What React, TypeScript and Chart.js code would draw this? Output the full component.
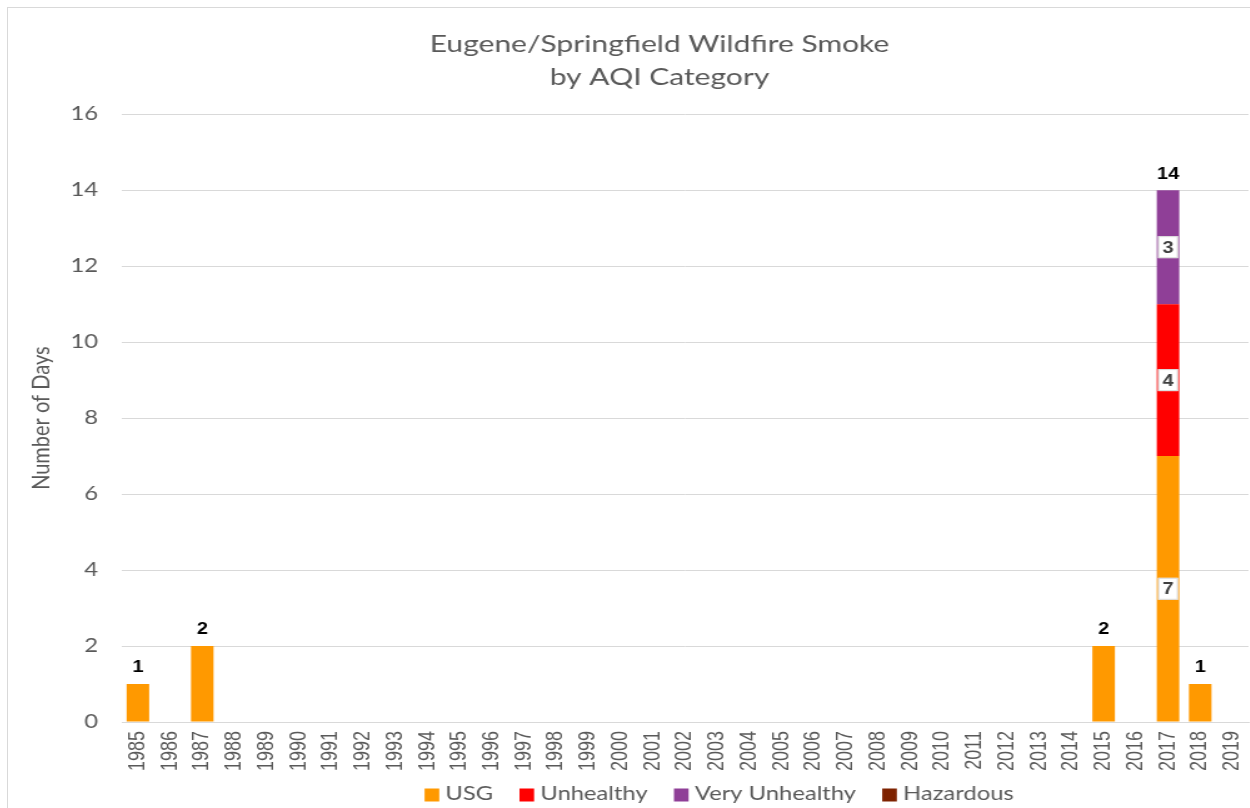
import React, { useEffect, useRef } from "react";
import { Chart, registerables } from "chart.js";

Chart.register(...registerables);

const years = [
  "1985", "1986", "1987", "1988", "1989", "1990", "1991", "1992", "1993", "1994",
  "1995", "1996", "1997", "1998", "1999", "2000", "2001", "2002", "2003", "2004",
  "2005", "2006", "2007", "2008", "2009", "2010", "2011", "2012", "2013", "2014",
  "2015", "2016", "2017", "2018", "2019",
];

const usg = [
  1, 0, 2, 0, 0, 0, 0, 0, 0, 0,
  0, 0, 0, 0, 0, 0, 0, 0, 0, 0,
  0, 0, 0, 0, 0, 0, 0, 0, 0, 0,
  2, 0, 7, 1, 0,
];
const unhealthy = [
  0, 0, 0, 0, 0, 0, 0, 0, 0, 0,
  0, 0, 0, 0, 0, 0, 0, 0, 0, 0,
  0, 0, 0, 0, 0, 0, 0, 0, 0, 0,
  0, 0, 4, 0, 0,
];
const veryUnhealthy = [
  0, 0, 0, 0, 0, 0, 0, 0, 0, 0,
  0, 0, 0, 0, 0, 0, 0, 0, 0, 0,
  0, 0, 0, 0, 0, 0, 0, 0, 0, 0,
  0, 0, 3, 0, 0,
];
const hazardous = [
  0, 0, 0, 0, 0, 0, 0, 0, 0, 0,
  0, 0, 0, 0, 0, 0, 0, 0, 0, 0,
  0, 0, 0, 0, 0, 0, 0, 0, 0, 0,
  0, 0, 0, 0, 0,
];

const seriesNames = ["USG", "Unhealthy", "Very Unhealthy", "Hazardous"];
const seriesColors = ["#FF9900", "#FF0000", "#8F3F97", "#7E2200"];
const titleLines = ["Eugene/Springfield Wildfire Smoke", "by AQI Category"];
const yTitle = "Number of Days";

const STRETCH = 1.25;
const CW = 994;
const CH = 800;

const LEGEND_FONT = "19px Lato, 'Liberation Sans', sans-serif";
const LEGEND_CENTER_X = 568.7;
const LEGEND_CENTER_Y = 786;
const LEGEND_BOX_W = 11.7;
const LEGEND_BOX_H = 13;
const LEGEND_TEXT_GAP = 5;
const LEGEND_ITEM_GAP = 21;

const labelPlugin = {
  id: "stackLabels",
  afterLayout(chart: any) {
    if (chart.titleBlock) {
      chart.titleBlock.left += 25;
      chart.titleBlock.right += 25;
    }
  },
  afterDatasetsDraw(chart: any) {
    const ctx = chart.ctx;
    const n = chart.data.labels.length;
    ctx.save();
    for (let i = 0; i < n; i++) {
      let total = 0;
      let count = 0;
      let topY = Infinity;
      let x = 0;
      const segs: any[] = [];
      chart.data.datasets.forEach((ds: any, d: number) => {
        const v = ds.data[i];
        if (v > 0) {
          const el = chart.getDatasetMeta(d).data[i];
          total += v;
          count++;
          topY = Math.min(topY, el.y);
          x = el.x;
          segs.push({ v, el });
        }
      });
      if (!total) continue;
      if (count > 1) {
        segs.forEach(({ v, el }) => {
          const cy = (el.y + el.base) / 2;
          const w = 16;
          const h = 22;
          ctx.fillStyle = "#FFFFFF";
          ctx.fillRect(el.x - w / 2, cy - h / 2, w, h);
          ctx.strokeStyle = "#D9D9D9";
          ctx.lineWidth = 1;
          ctx.strokeRect(el.x - w / 2 + 0.5, cy - h / 2 + 0.5, w - 1, h - 1);
          ctx.fillStyle = "#404040";
          ctx.font = 'bold 16px "Liberation Sans", Arial, sans-serif';
          ctx.textAlign = "center";
          ctx.textBaseline = "middle";
          ctx.fillText(String(v), el.x, cy + 1);
        });
      }
      ctx.fillStyle = "#000000";
      ctx.font = 'bold 16px "Liberation Sans", Arial, sans-serif';
      ctx.textAlign = "center";
      ctx.textBaseline = "middle";
      ctx.fillText(String(total), x, topY - 16);
    }
    ctx.restore();
  },
  afterDraw(chart: any) {
    const ctx = chart.ctx;
    ctx.save();
    ctx.font = LEGEND_FONT;
    const items = chart.data.datasets.map((ds: any) => ({
      text: ds.label,
      color: ds.backgroundColor,
      w: ctx.measureText(ds.label).width,
    }));
    let total = 0;
    items.forEach((it: any, k: number) => {
      total += LEGEND_BOX_W + LEGEND_TEXT_GAP + it.w;
      if (k > 0) total += LEGEND_ITEM_GAP;
    });
    let x = LEGEND_CENTER_X - total / 2;
    ctx.textAlign = "left";
    ctx.textBaseline = "middle";
    items.forEach((it: any) => {
      ctx.fillStyle = it.color;
      ctx.fillRect(x, LEGEND_CENTER_Y - LEGEND_BOX_H / 2 + 1, LEGEND_BOX_W, LEGEND_BOX_H);
      x += LEGEND_BOX_W + LEGEND_TEXT_GAP;
      ctx.fillStyle = "#595959";
      ctx.fillText(it.text, x, LEGEND_CENTER_Y);
      x += it.w + LEGEND_ITEM_GAP;
    });
    ctx.restore();
  },
};

export default function App() {
  const ref = useRef<HTMLCanvasElement | null>(null);

  useEffect(() => {
    if (!ref.current) return;
    const seriesData = [usg, unhealthy, veryUnhealthy, hazardous];
    const chart = new Chart(ref.current, {
      type: "bar",
      data: {
        labels: years,
        datasets: seriesNames.map((name, k) => ({
          label: name,
          data: seriesData[k],
          backgroundColor: seriesColors[k],
          borderWidth: 0,
          barPercentage: 0.7,
          categoryPercentage: 1.0,
        })),
      },
      options: {
        responsive: false,
        animation: false,
        devicePixelRatio: 1,
        layout: { padding: { left: 0, right: 2, top: 0, bottom: 36 } },
        plugins: {
          tooltip: { enabled: false },
          title: {
            display: true,
            text: titleLines,
            color: "#595959",
            font: { family: "Lato, 'Liberation Sans', sans-serif", size: 24, weight: "normal", lineHeight: 1.4 },
            padding: { top: 19, bottom: 20 },
          },
          legend: { display: false },
        },
        scales: {
          x: {
            stacked: true,
            grid: { display: false, drawTicks: false },
            border: { display: true, color: "#D9D9D9" },
            ticks: {
              color: "#595959",
              font: { family: "'Liberation Sans', Arial, sans-serif", size: 18 },
              minRotation: 90,
              maxRotation: 90,
              padding: 9,
              autoSkip: false,
            },
            afterFit: (scale: any) => {
              scale.height = 50;
              scale.paddingLeft = 0;
              scale.paddingRight = 0;
            },
          },
          y: {
            stacked: true,
            min: 0,
            max: 16,
            ticks: {
              stepSize: 2,
              color: "#595959",
              font: { family: "Lato, 'Liberation Sans', sans-serif", size: 19 },
              padding: 19,
            },
            grid: { color: "#D9D9D9", lineWidth: 1, drawTicks: false },
            border: { display: false },
            title: {
              display: true,
              text: yTitle,
              color: "#595959",
              font: { family: "Lato, 'Liberation Sans', sans-serif", size: 20 },
              padding: { top: 15, bottom: 0 },
            },
            afterFit: (scale: any) => {
              scale.width = 91;
            },
          },
        },
      },
      plugins: [labelPlugin],
    });
    return () => chart.destroy();
  }, []);

  return (
    <div
      style={{
        position: "fixed",
        left: 7,
        top: 7,
        width: 1260,
        height: 820,
        border: "1px solid #D9D9D9",
        background: "#FFFFFF",
        overflow: "hidden",
      }}
    >
      <canvas
        ref={ref}
        width={CW}
        height={CH}
        style={{ display: "block", width: CW * STRETCH, height: CH }}
      />
    </div>
  );
}
